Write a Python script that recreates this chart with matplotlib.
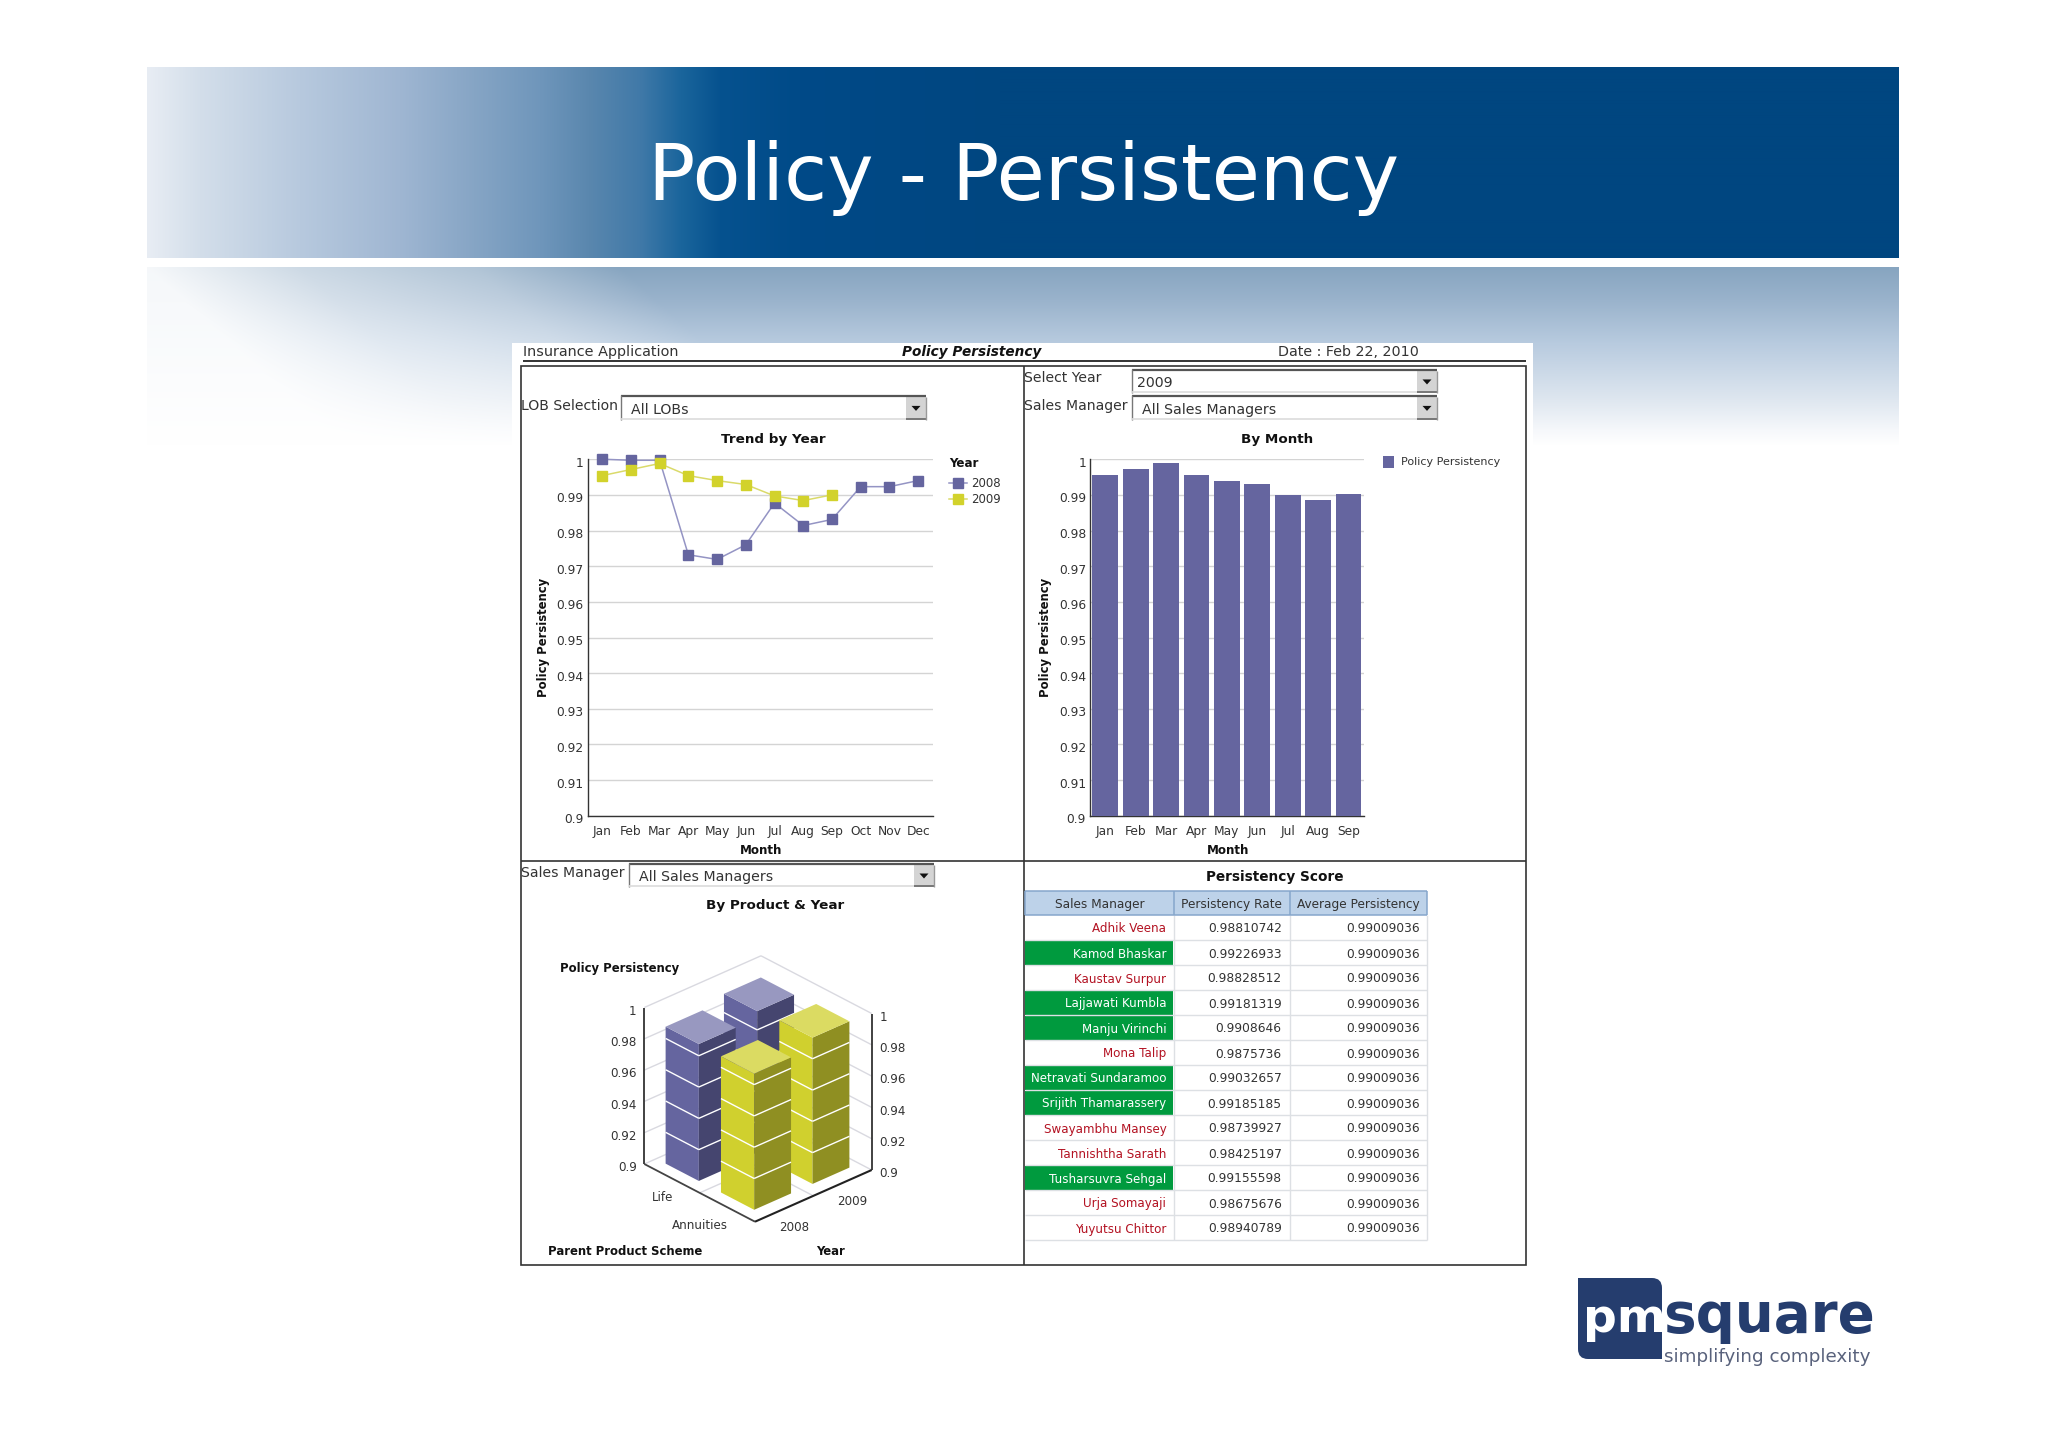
import numpy as np
import matplotlib
matplotlib.use("Agg")
import matplotlib.pyplot as plt
from matplotlib.patches import Rectangle, Polygon, FancyBboxPatch
from matplotlib.transforms import ScaledTranslation

# ---------- data ----------
months = ["Jan", "Feb", "Mar", "Apr", "May", "Jun", "Jul", "Aug", "Sep", "Oct", "Nov", "Dec"]
trend_2008 = [1.0, 0.9997, 0.9997, 0.9732, 0.9719, 0.976, 0.9877, 0.9814, 0.9831, 0.9923, 0.9923, 0.994]
trend_2009 = [0.9954, 0.9971, 0.9988, 0.9954, 0.994, 0.9929, 0.9897, 0.9884, 0.99]
by_month_2009 = [0.9955, 0.9972, 0.999, 0.9955, 0.994, 0.993, 0.9899, 0.9885, 0.9902]
y_ticks = [0.9, 0.91, 0.92, 0.93, 0.94, 0.95, 0.96, 0.97, 0.98, 0.99, 1]
products = ["Life", "Annuities"]
years = ["2008", "2009"]
life_by_year = [0.9875, 0.992]
annuities_by_year = [0.987, 0.9935]
z_ticks = [0.9, 0.92, 0.94, 0.96, 0.98, 1]
managers = ["Adhik Veena", "Kamod Bhaskar", "Kaustav Surpur", "Lajjawati Kumbla", "Manju Virinchi",
            "Mona Talip", "Netravati Sundaramoo", "Srijith Thamarassery", "Swayambhu Mansey",
            "Tannishtha Sarath", "Tusharsuvra Sehgal", "Urja Somayaji", "Yuyutsu Chittor"]
rates = ["0.98810742", "0.99226933", "0.98828512", "0.99181319", "0.9908646", "0.9875736", "0.99032657",
         "0.99185185", "0.98739927", "0.98425197", "0.99155598", "0.98675676", "0.98940789"]
average = "0.99009036"
columns = ["Sales Manager", "Persistency Rate", "Average Persistency"]

# ---------- style ----------
W, H = 2048, 1447
plt.rcParams["font.family"] = ["DejaVu Sans"]
PURPLE, YELLOW = "#65659f", "#d2d22c"
INK = "#2e2e2e"
fig = plt.figure(figsize=(W / 100, H / 100), dpi=100, facecolor="white")
bg = fig.add_axes([0, 0, 1, 1])
bg.axis("off")


def hexrgb(c):
    return np.array(matplotlib.colors.to_rgb(c))


# header band gradient
xs = np.arange(147, 1899)
stops_x = [147, 200, 300, 400, 474, 540, 589, 640, 681, 720, 800, 1000, 1899]
stops_c = ["#e8edf4", "#d3deea", "#b7c9de", "#9fb6d2", "#86a5c5", "#6f96bb", "#5a87ae", "#4079a8",
           "#1a659c", "#06528f", "#004a88", "#004680", "#004680"]
grad = np.stack([np.interp(xs, stops_x, [hexrgb(c)[i] for c in stops_c]) for i in range(3)], axis=-1)
bg.imshow(grad[None, :, :], extent=(147, 1899, 258, 67), aspect="auto", interpolation="bilinear", zorder=1)

# lower fading band
ys = np.arange(267, 446)
vx = [267, 300, 343, 400, 430, 445]
vc = ["#87a5c0", "#9ab3cc", "#b8cbdf", "#dfe7f0", "#f6f8fb", "#ffffff"]
vert = np.stack([np.interp(ys, vx, [hexrgb(c)[i] for c in vc]) for i in range(3)], axis=-1)
XX, YY = np.meshgrid(xs, ys)
gx = np.interp(XX - 1.1 * (YY - 267), [147, 300, 474, 620, 1899], [0.08, 0.42, 0.65, 1, 1])
band = 1 - (1 - vert[:, None, :]) * gx[:, :, None]
bg.imshow(band, extent=(147, 1899, 446, 267), aspect="auto", interpolation="bilinear", zorder=1)
bg.set_xlim(0, W)
bg.set_ylim(H, 0)


def T(x, y, s, size=10, ha="left", va="center", color=INK, ax=bg, **kw):
    dy = 1.2 if (va == "center" and "rotation" not in kw) else 0
    return ax.text(x, y + dy, s, fontsize=size, ha=ha, va=va, color=color, zorder=8, **kw)


def rect(x0, y0, x1, y1, fc="none", ec="none", lw=0, z=3):
    bg.add_patch(Rectangle((x0, y0), x1 - x0, y1 - y0, fc=fc, ec=ec, lw=lw, zorder=z))


def line(xx, yy, c="#333333", lw=1.0, z=4):
    bg.plot(xx, yy, color=c, lw=lw, zorder=z, solid_capstyle="butt")


T(1024, 200, "Policy - Persistency", size=56.5, ha="center", va="baseline", color="white")

# dashboard panel
rect(512, 343, 1533, 1290, fc="white")
T(523, 351, "Insurance Application", size=10.4, color="#333333")
T(972, 351, "Policy Persistency", size=9.8, ha="center", weight="bold", style="italic", color="#111111")
T(1278, 351, "Date : Feb 22, 2010", size=10.3, color="#333333")
line([523, 1525.5], [361, 361], lw=1.4)
rect(521, 366, 1525.8, 1265, ec="#333333", lw=1.2, z=4)
line([1023.8, 1023.8], [366, 1265], lw=1.2)
line([521, 1525.8], [860.8, 860.8], lw=1.2)


def combo(x0, y0, x1, y1, label, text_x):
    rect(x0, y0, x1, y1, fc="white")
    line([x0, x1], [y0 + 1, y0 + 1], c="#555555", lw=1.6)
    line([x0 + 0.7, x0 + 0.7], [y0, y1], c="#777777", lw=1.0)
    line([x0, x1], [y1 - 0.5, y1 - 0.5], c="#dcdcdc", lw=1.2)
    rect(x1 - 20, y0 + 2.5, x1, y1, fc="#d4d4d4")
    line([x1 - 20, x1], [y1 - 1, y1 - 1], c="#777777", lw=1.4)
    line([x1 - 0.5, x1 - 0.5], [y0 + 2, y1], c="#999999", lw=1.0)
    cx, cy = x1 - 10, (y0 + y1) / 2 + 1
    bg.add_patch(Polygon([(cx - 4.5, cy - 2.2), (cx + 4.5, cy - 2.2), (cx, cy + 2.8)], fc="#111111", ec="none", zorder=6))
    T(text_x, (y0 + y1) / 2 + 1.5, label, size=10.2, color="#333333")


T(521, 404.5, "LOB Selection", size=10.1, color="#333333")
combo(620.5, 394.7, 926, 419.5, "All LOBs", 631)
T(1024, 377, "Select Year", size=10.1, color="#333333")
combo(1131.6, 368.6, 1437, 392.7, "2009", 1136.7)
T(1024, 404.5, "Sales Manager", size=10.1, color="#333333")
combo(1131.6, 394.7, 1437, 419.5, "All Sales Managers", 1142)
T(521, 871.5, "Sales Manager", size=10.1, color="#333333")
combo(628.7, 862.7, 934, 886.7, "All Sales Managers", 639)

T(773.8, 438, "Trend by Year", size=9.7, ha="center", weight="bold", color="#111111")
T(1277, 438, "By Month", size=9.7, ha="center", weight="bold", color="#111111")
T(775, 904, "By Product & Year", size=9.7, ha="center", weight="bold", color="#111111")
T(1275, 875.3, "Persistency Score", size=9.8, ha="center", weight="bold", color="#111111")


def chart_axes(x0, x1, y_top, y_bot):
    ax = fig.add_axes([x0 / W, 1 - y_bot / H, (x1 - x0) / W, (y_bot - y_top) / H], facecolor="none", zorder=5)
    ax.set_ylim(0.9, 1.0)
    ax.set_yticks(y_ticks)
    ax.set_yticklabels([f"{v:g}" for v in y_ticks])
    ax.tick_params(length=0, labelsize=8.8, labelcolor="#333333", pad=3)
    ax.tick_params(axis="x", pad=6.5)
    ax.grid(axis="y", color="#d4d4d4", lw=1)
    ax.set_axisbelow(True)
    for s in ("top", "right"):
        ax.spines[s].set_visible(False)
    for s in ("left", "bottom"):
        ax.spines[s].set_color("#333333")
        ax.spines[s].set_linewidth(1.0)
    off = ScaledTranslation(0, -2.5 / 100, fig.dpi_scale_trans)
    for lab in ax.get_yticklabels():
        lab.set_transform(lab.get_transform() + off)
    return ax


# line chart
ax1 = chart_axes(587.8, 932.5, 459.2, 815.8)
pos = np.arange(len(months))
l08, = ax1.plot(pos, trend_2008, color="#9494c4", lw=1.1, marker="s", ms=7.8, mfc=PURPLE, mec=PURPLE, label="2008", clip_on=False, zorder=3)
l09, = ax1.plot(pos[:len(trend_2009)], trend_2009, color="#dada6a", lw=1.1, marker="s", ms=7.8, mfc=YELLOW, mec=YELLOW, label="2009", clip_on=False, zorder=4)
ax1.set_xlim(-0.5, 11.5)
ax1.set_xticks(pos)
ax1.set_xticklabels(months)
leg = ax1.legend(handles=[l08, l09], title="Year", loc="upper left", frameon=False, prop={"size": 8.5},
                 bbox_to_anchor=(949 / W, 1 - 457 / H), bbox_transform=fig.transFigure, borderpad=0, borderaxespad=0,
                 handlelength=1.5, handletextpad=0.4, labelspacing=0.25, alignment="left",
                 title_fontproperties={"size": 8.6, "weight": "bold"}, labelcolor="#333333")
leg.get_title().set_color("#111111")
leg._legend_box.sep = 5
T(543.7, 637.5, "Policy Persistency", size=8.4, ha="center", rotation=90, weight="bold", color="#111111")
T(761, 849.5, "Month", size=8.6, ha="center", weight="bold", color="#111111")

# bar chart
ax2 = chart_axes(1090.2, 1363.6, 459.2, 815.8)
pos2 = np.arange(len(by_month_2009))
bars = ax2.bar(pos2, by_month_2009, width=0.85, color=PURPLE, label="Policy Persistency", zorder=3)
ax2.set_xlim(-0.5, 8.5)
ax2.set_xticks(pos2)
ax2.set_xticklabels(months[:len(by_month_2009)])
leg2 = ax2.legend(handles=[bars], loc="upper left", frameon=False, prop={"size": 8.0},
                  bbox_to_anchor=(1382.6 / W, 1 - 455.5 / H), bbox_transform=fig.transFigure, borderpad=0, borderaxespad=0,
                  handlelength=1.0, handleheight=1.3, handletextpad=0.65, labelcolor="#333333")
T(1046, 637.5, "Policy Persistency", size=8.4, ha="center", rotation=90, weight="bold", color="#111111")
T(1228, 849.5, "Month", size=8.6, ha="center", weight="bold", color="#111111")

# pseudo-3D chart, projected from the values
LEFT = np.array([644.3, 1164.0])
U = np.array([110.7, 57.7])
V = np.array([116.7, -51.7])
Z = np.array([0.0, -156.5])


def P(u, v, z):
    return LEFT + u * U + v * V + (z - 0.9) / 0.1 * Z


def seg(a, b, c, lw, z=3.5):
    bg.plot([a[0], b[0]], [a[1], b[1]], color=c, lw=lw, zorder=z, solid_capstyle="butt")


GL = "#d9d9e0"
for zt in z_ticks:
    seg(P(0, 0, zt), P(0, 1, zt), GL, 1.0)
    seg(P(0, 1, zt), P(1, 1, zt), GL, 1.0)
seg(P(.5, 0, .9), P(.5, 1, .9), GL, 1.0)
seg(P(0, .5, .9), P(1, .5, .9), GL, 1.0)
seg(P(0, 0, .9), P(0, 0, 1), "#333333", 1.3, 3.6)
seg(P(1, 1, .9), P(1, 1, 1), "#333333", 1.3, 3.6)
seg(P(0, 0, .9), P(1, 0, .9), "#444444", 1.3, 3.6)
seg(P(1, 0, .9), P(1, 1, .9), "#222222", 1.5, 3.6)

FACES = {"Life": ("#65659f", "#45456f", "#9898c0"), "Annuities": ("#d0d02e", "#8f8f22", "#dbdb62")}
cu = {"Life": 0.235, "Annuities": 0.735}
cv = {"2008": 0.26, "2009": 0.76}
du, dv = 0.15, 0.158
cells = [("Life", "2009", life_by_year[1]), ("Life", "2008", life_by_year[0]),
         ("Annuities", "2009", annuities_by_year[1]), ("Annuities", "2008", annuities_by_year[0])]
zbase = 4.0
for prod, yr, val in cells:
    u0, u1 = cu[prod] - du, cu[prod] + du
    v0, v1 = cv[yr] - dv, cv[yr] + dv
    cl, cr, ct = FACES[prod]
    bg.add_patch(Polygon([P(u0, v0, .9), P(u1, v0, .9), P(u1, v0, val), P(u0, v0, val)], fc=cl, ec="none", zorder=zbase))
    bg.add_patch(Polygon([P(u1, v0, .9), P(u1, v1, .9), P(u1, v1, val), P(u1, v0, val)], fc=cr, ec="none", zorder=zbase))
    bg.add_patch(Polygon([P(u0, v0, val), P(u1, v0, val), P(u1, v1, val), P(u0, v1, val)], fc=ct, ec="none", zorder=zbase))
    for zt in z_ticks[1:-1]:
        seg(P(u0, v0, zt), P(u1, v0, zt), "white", 1.0, zbase + 0.01)
        seg(P(u1, v0, zt), P(u1, v1, zt), "white", 1.0, zbase + 0.01)
    zbase += 0.1

for zt in z_ticks:
    a = P(0, 0, zt)
    T(a[0] - 7.6, a[1] + 2.5, f"{zt:g}", size=8.6, ha="right", color="#333333")
    b = P(1, 1, zt)
    T(b[0] + 7.6, b[1] + 2.5, f"{zt:g}", size=8.6, color="#333333")
for i, prod in enumerate(products):
    a = P((i + .5) / 2, 0, .9)
    T(a[0] + 1, a[1] + 17.5, prod, size=8.6, ha="right", color="#333333")
for j, yr in enumerate(years):
    a = P(1, (j + .5) / 2, .9)
    T(a[0] - 5.5, a[1] + 17.5, yr, size=8.6, color="#333333")
T(620, 967.7, "Policy Persistency", size=8.4, ha="center", weight="bold", color="#111111")
T(625, 1250, "Parent Product Scheme", size=8.4, ha="center", weight="bold", color="#111111")
T(830.3, 1250, "Year", size=8.4, ha="center", weight="bold", color="#111111")

# table
col_x = [1025.2, 1173.9, 1289.6, 1427.4]
head_top, head_bot, row_h = 890.6, 915.3, 25.0
rect(col_x[0], head_top, col_x[3], head_bot, fc="#bdd2e9")
for x in col_x:
    line([x, x], [head_top, head_bot], c="#86a6cc", lw=1.1, z=5)
line(col_x[:1] + col_x[3:], [head_top, head_top], c="#86a6cc", lw=1.1, z=5)
line(col_x[:1] + col_x[3:], [head_bot, head_bot], c="#86a6cc", lw=1.1, z=5)
for c, label in enumerate(columns):
    T((col_x[c] + col_x[c + 1]) / 2, (head_top + head_bot) / 2, label, size=8.7, ha="center", color="#333333")
for r, (name, rate) in enumerate(zip(managers, rates)):
    top = head_bot + r * row_h
    bot = top + row_h
    good = float(rate) > float(average)
    if good:
        rect(col_x[0], top + 0.5, col_x[1] - 0.5, bot - 0.5, fc="#009a3e", z=3)
    line([col_x[0], col_x[3]], [bot, bot], c="#dde0e4", lw=1.0, z=3.5)
    T(1166.3, (top + bot) / 2, name, size=8.6, ha="right", color="white" if good else "#b31222")
    T(1281.7, (top + bot) / 2, rate, size=8.8, ha="right", color="#333333")
    T(1419.4, (top + bot) / 2, average, size=8.8, ha="right", color="#333333")
for x in col_x[1:]:
    line([x, x], [head_bot, head_bot + 13 * row_h], c="#dde0e4", lw=1.0, z=3.5)

# logo
NAVY = "#253d6e"
bg.add_patch(FancyBboxPatch((1586, 1286), 68, 65, boxstyle="round,pad=8,rounding_size=10", fc=NAVY, ec="none", zorder=3))
rect(1578.3, 1278.3, 1600, 1300, fc=NAVY)
rect(1640, 1338, 1661.9, 1359.3, fc=NAVY)
T(1583, 1332, "pm", size=34, va="baseline", color="white", weight="bold")
T(1663, 1332, "square", size=39.3, va="baseline", color=NAVY, weight="bold")
T(1664, 1355.5, "simplifying complexity", size=13.2, color="#59627c")

fig.savefig("out.png", dpi=100)
